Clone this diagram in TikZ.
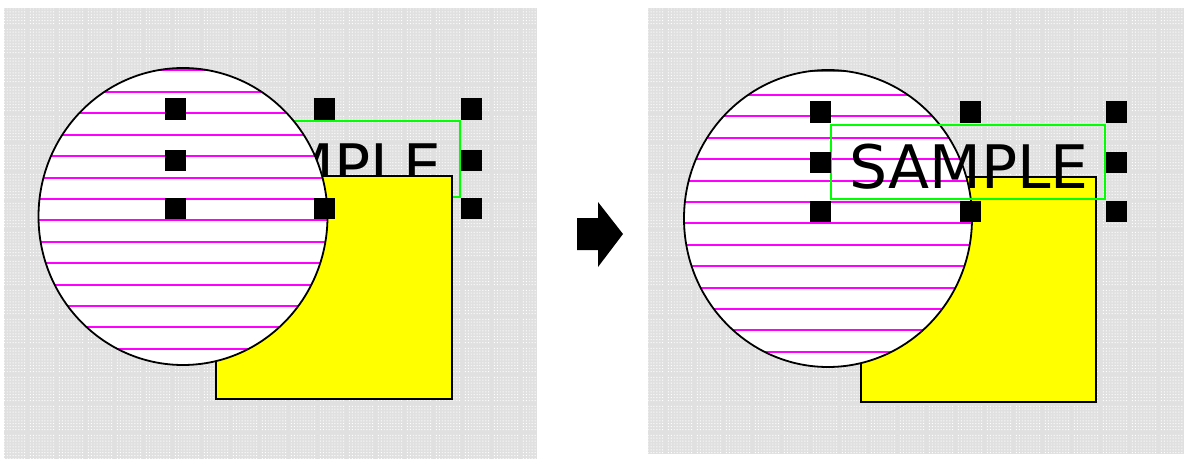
\documentclass[tikz,border=0pt]{standalone}
\usepackage{fontspec}
\newfontfamily\samplefont{DejaVu Sans}
\usetikzlibrary{patterns}
\definecolor{panelgray}{HTML}{E0E0E0}
\definecolor{hatchmag}{HTML}{FF00FF}
\definecolor{boxgreen}{HTML}{00FF00}
\definecolor{pureyellow}{HTML}{FFFF00}
\pgfdeclarepatternformonly{griddots}{\pgfpointorigin}{\pgfpoint{29pt}{29pt}}{\pgfpoint{29pt}{29pt}}{%
  \foreach \i in {0,...,8}{\foreach \j in {0,...,8}{%
    \pgfpathrectangle{\pgfpoint{\i*3pt+1pt}{\j*3pt+1pt}}{\pgfpoint{1pt}{1pt}}}}%
  \pgfusepath{fill}}
\tikzset{
  panelbg/.style={fill=panelgray},
  paneldots/.style={pattern=griddots, pattern color=white},
  yellowbox/.style={fill=pureyellow, draw=black, line width=1.8pt},
  circlefill/.style={fill=white},
  circleline/.style={draw=black, line width=1.8pt},
  hatch/.style={draw=hatchmag, line width=2pt},
  greenbox/.style={draw=boxgreen, line width=1.6pt},
  sampletext/.style={inner sep=0pt, anchor=base, font=\samplefont\fontsize{60}{72}\selectfont, text=black},
  handlebox/.style={fill=black, inner sep=0pt, minimum size=21pt, draw=none},
  bigarrow/.style={fill=black}
}
\begin{document}
\begin{tikzpicture}[x=1pt,y=-1pt]
\useasboundingbox (0,0) rectangle (1187,460);
\fill[white] (0,0) rectangle (1187,460);
% ---------- left panel ----------
\fill[panelbg] (4,8) rectangle (537,459);
\fill[paneldots] (4,8) rectangle (537,459);
\draw[greenbox] (186,121) rectangle (460,197);
\node[sampletext] (textL) at (322,187) {SAMPLE};
\draw[yellowbox] (216,176) rectangle (452,399);
\fill[circlefill] (183,216.5) ellipse [x radius=144.5pt, y radius=148.5pt];
\begin{scope}
  \clip (183,216.5) ellipse [x radius=144.5pt, y radius=148.5pt];
  \foreach \yy in {69.8,92,113.4,134.8,156.2,177.6,199,220.4,241.8,263.2,284.6,306,327.4,348.8}
    \draw[hatch] (30,\yy) -- (340,\yy);
\end{scope}
\draw[circleline] (183,216.5) ellipse [x radius=144.5pt, y radius=148.5pt];
\node[handlebox] (hL1) at (175,109) {};
\node[handlebox] (hL2) at (324,109) {};
\node[handlebox] (hL3) at (471,109) {};
\node[handlebox] (hL4) at (175,160) {};
\node[handlebox] (hL5) at (471,160) {};
\node[handlebox] (hL6) at (175,208) {};
\node[handlebox] (hL7) at (324,208) {};
\node[handlebox] (hL8) at (471,208) {};
% ---------- arrow ----------
\fill[bigarrow] (577,218) -- (598,218) -- (598,202) -- (623,234) -- (598,267) -- (598,250) -- (577,250) -- cycle;
% ---------- right panel ----------
\fill[panelbg] (648,8) rectangle (1184,454);
\fill[paneldots] (648,8) rectangle (1184,454);
\draw[yellowbox] (861,177) rectangle (1096,402);
\fill[circlefill] (828,218.5) ellipse [x radius=144pt, y radius=148.5pt];
\begin{scope}
  \clip (828,218.5) ellipse [x radius=144pt, y radius=148.5pt];
  \foreach \yy in {71,95,116.4,137.8,159.2,180.6,202,223.4,244.8,266.2,287.6,309,330.4,351.8}
    \draw[hatch] (675,\yy) -- (985,\yy);
\end{scope}
\draw[circleline] (828,218.5) ellipse [x radius=144pt, y radius=148.5pt];
\draw[greenbox] (831,125) rectangle (1105,199);
\node[sampletext] (textR) at (969,188) {SAMPLE};
\node[handlebox] (hR1) at (820,112) {};
\node[handlebox] (hR2) at (970,112) {};
\node[handlebox] (hR3) at (1116,112) {};
\node[handlebox] (hR4) at (820,162) {};
\node[handlebox] (hR5) at (1116,162) {};
\node[handlebox] (hR6) at (820,211) {};
\node[handlebox] (hR7) at (970,211) {};
\node[handlebox] (hR8) at (1116,211) {};
\end{tikzpicture}
\end{document}
